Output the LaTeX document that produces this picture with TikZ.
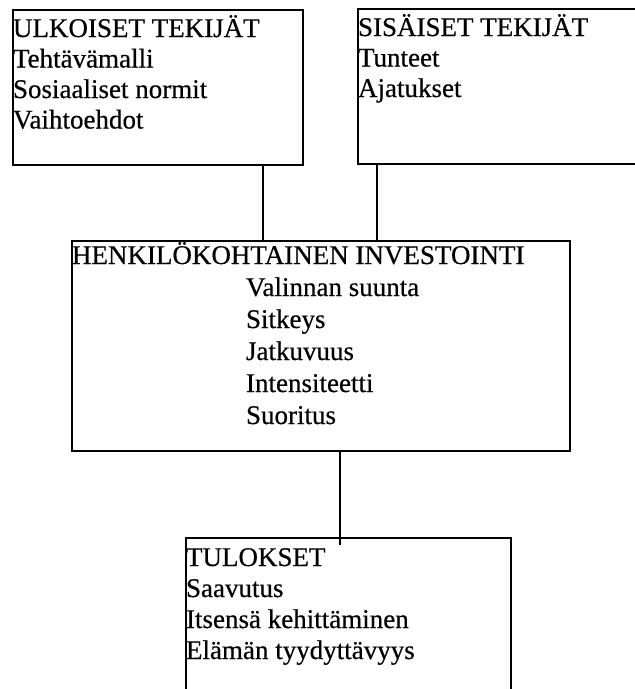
\documentclass[tikz,border=0pt]{standalone}
\usepackage{fontspec}
\setmainfont{Liberation Serif}
\newfontfamily\scanfont{Liberation Serif}[FakeBold=0.5]
\newcommand\bxtext[5]{\parbox[t][#2][t]{#1}{\raggedright\scanfont\fontsize{27}{#4}\selectfont\rule{0pt}{#3}#5}}
\begin{document}
\begin{tikzpicture}[x=1pt,y=-1pt,
  box/.style={draw, line width=2pt, inner sep=0pt, anchor=north west},
  link/.style={line width=2pt}]
\useasboundingbox (0,0) rectangle (635,689);
\clip (0,0) rectangle (635,689);
\node[box] (ext) at (12,9) {\bxtext{290pt}{155pt}{27pt}{30.5pt}{ULKOISET TEKIJÄT\\Tehtävämalli\\Sosiaaliset normit\\Vaihtoehdot}};
\node[box] (int) at (357,8) {\bxtext{300pt}{155pt}{27pt}{30.5pt}{SISÄISET TEKIJÄT\\Tunteet\\Ajatukset}};
\node[box] (mid) at (71,240) {\bxtext{498pt}{210pt}{23pt}{32pt}{HENKILÖKOHTAINEN INVESTOINTI\\
  \hspace*{174pt}Valinnan suunta\\
  \hspace*{174pt}Sitkeys\\
  \hspace*{174pt}Jatkuvuus\\
  \hspace*{174pt}Intensiteetti\\
  \hspace*{174pt}Suoritus}};
\node[box] (res) at (185,537) {\bxtext{325pt}{170pt}{28pt}{31pt}{TULOKSET\\Saavutus\\Itsensä kehittäminen\\Elämän tyydyttävyys}};
\coordinate (xa) at (263,0);
\coordinate (xb) at (377,0);
\coordinate (xc) at (340,0);
\coordinate (tip) at (340,545);
\draw[link] (ext.south -| xa) -- (mid.north -| xa);
\draw[link] (int.south -| xb) -- (mid.north -| xb);
\draw[link] (mid.south -| xc) -- (tip);
\end{tikzpicture}
\end{document}
